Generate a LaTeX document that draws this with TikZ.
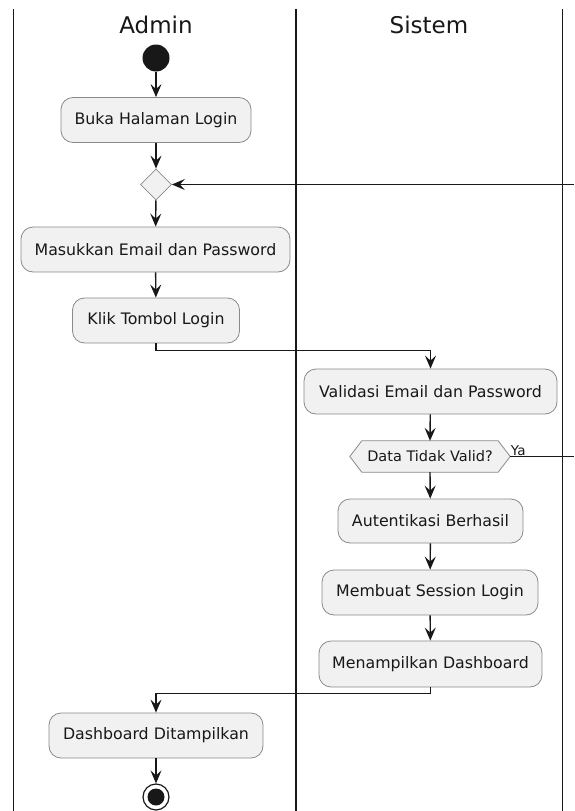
\documentclass[tikz,border=0pt]{standalone}
\usepackage{fontspec}
\setmainfont{DejaVu Sans}
\usetikzlibrary{shapes.geometric,arrows.meta}
\definecolor{boxfill}{HTML}{F1F1F1}
\definecolor{boxline}{HTML}{8A8A8A}
\definecolor{ink}{HTML}{181818}
\tikzset{
  actbox/.style={draw=boxline, line width=0.8pt, fill=boxfill, rounded corners=12pt,
    inner sep=0pt, font=\fontsize{15.8}{18}\selectfont, text=ink},
  lane/.style={draw=ink, line width=1.6pt},
  flow/.style={draw=ink, line width=1.4pt, -{Stealth[length=13pt, width=11pt, inset=5pt]}},
  plain/.style={draw=ink, line width=1.4pt},
  title/.style={font=\fontsize{23}{26}\selectfont, text=ink},
  decide/.style={diamond, aspect=1, draw=boxline, line width=0.8pt, fill=boxfill, inner sep=0pt, minimum size=31pt},
}
\begin{document}
\begin{tikzpicture}[x=1pt, y=-1pt]
\useasboundingbox[fill=white] (0,0) rectangle (574,811);
% lanes
\coordinate (l1t) at (13.5,9); \coordinate (l1b) at (13.5,811);
\coordinate (l2t) at (296,9); \coordinate (l2b) at (296,811);
\coordinate (l3t) at (562.5,9); \coordinate (l3b) at (562.5,811);
\draw[lane] (l1t) -- (l1b);
\draw[lane] (l2t) -- (l2b);
\draw[lane] (l3t) -- (l3b);
\node[title] (tadmin) at (156,25) {Admin};
\node[title] (tsistem) at (429,25) {Sistem};
% start
\node[circle, fill=ink, minimum size=27pt, inner sep=0pt] (start) at (156,58) {};
\node[actbox, minimum width=190pt, minimum height=45pt] (buka) at (156,120) {Buka Halaman Login};
\node[decide] (dia) at (156,184.5) {};
\node[actbox, minimum width=269pt, minimum height=45pt] (masuk) at (155.5,249.5) {Masukkan Email dan Password};
\node[actbox, minimum width=167pt, minimum height=45pt] (klik) at (156,320.5) {Klik Tombol Login};
\node[actbox, minimum width=253pt, minimum height=45pt] (valid) at (430.5,391.5) {Validasi Email dan Password};
% hexagon decision
\node[minimum width=160pt, minimum height=31pt, inner sep=0pt] (hex) at (430,456.5) {};
\draw[draw=boxline, line width=0.8pt, fill=boxfill] (hex.west) -- ([xshift=12pt]hex.north west) -- ([xshift=-12pt]hex.north east) -- (hex.east) -- ([xshift=-12pt]hex.south east) -- ([xshift=12pt]hex.south west) -- cycle;
\node[font=\fontsize{14.5}{17}\selectfont, text=ink] (hextext) at (hex.center) {Data Tidak Valid?};
\node[actbox, minimum width=185pt, minimum height=44pt] (aut) at (430.5,521) {Autentikasi Berhasil};
\node[actbox, minimum width=216pt, minimum height=45pt] (sess) at (430,592.5) {Membuat Session Login};
\node[actbox, minimum width=223pt, minimum height=46pt] (tampil) at (430.5,664) {Menampilkan Dashboard};
\node[actbox, minimum width=214pt, minimum height=45pt] (dash) at (156,735.5) {Dashboard Ditampilkan};
% end
\node[circle, draw=ink, line width=1.2pt, fill=white, minimum size=26pt, inner sep=0pt] (stop) at (156,797) {};
\node[circle, fill=ink, minimum size=17pt, inner sep=0pt] (stopin) at (stop.center) {};
% connectors
\draw[flow] (start) -- (buka);
\draw[flow] (buka) -- (dia);
\draw[flow] (dia) -- (masuk);
\draw[flow] (masuk) -- (klik);
\draw[flow] (klik.south) -- ++(0,7) -| (valid.north);
\draw[flow] (valid) -- (hex.north);
\draw[flow] (hex.south) -- (aut);
\draw[flow] (aut) -- (sess);
\draw[flow] (sess) -- (tampil);
\draw[flow] (tampil.south) -- ++(0,6) -| (dash.north);
\draw[flow] (dash) -- (stop);
% loop back (cut off at right edge)
\coordinate (r1) at (574,456.5);
\coordinate (r2) at (574,184.5);
\draw[plain] (hex.east) -- (r1);
\draw[flow] (r2) -- (dia.east);
\node[anchor=south west, inner sep=0.5pt, font=\fontsize{13.5}{15}\selectfont, text=ink] (ya) at (hex.east) {Ya};
\end{tikzpicture}
\end{document}
